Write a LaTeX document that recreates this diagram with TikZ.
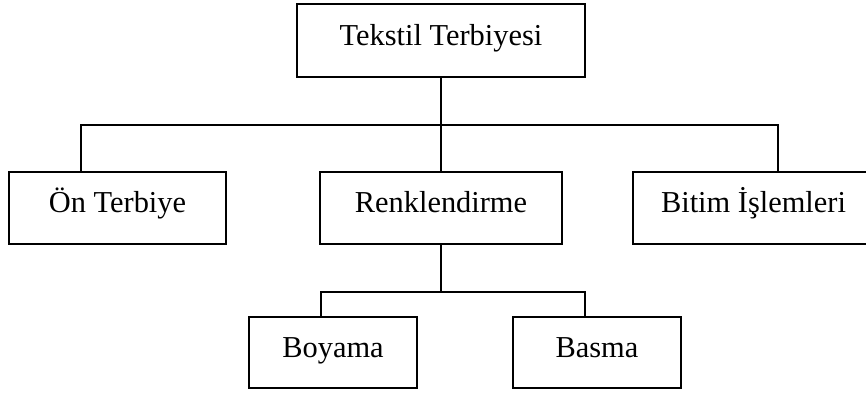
\documentclass[tikz,border=0pt]{standalone}
\usepackage{fontspec}
\setmainfont{Liberation Serif}
\begin{document}
\begin{tikzpicture}[x=1pt,y=-1pt,
  box/.style={draw,line width=1.8pt,rectangle,inner sep=0pt,
    text height=14pt,text depth=5pt,font=\fontsize{30.4}{36}\selectfont},
  conn/.style={line width=1.8pt}]
\useasboundingbox (0,0) rectangle (866,392);
\node[box,minimum width=288pt,minimum height=73pt] (top) at (441,40.5) {Tekstil Terbiyesi};
\node[box,minimum width=217pt,minimum height=72pt] (on) at (117.5,208) {Ön Terbiye};
\node[box,minimum width=242pt,minimum height=72pt] (renk) at (441,208) {Renklendirme};
\node[box,minimum width=241pt,minimum height=72pt] (bitim) at (753.5,208) {Bitim İşlemleri};
\node[box,minimum width=168pt,minimum height=71pt] (boy) at (333,352.5) {Boyama};
\node[box,minimum width=168pt,minimum height=71pt] (bas) at (597,352.5) {Basma};
\coordinate (hl) at (81,125);
\coordinate (hr) at (778,125);
\coordinate (ll) at (321,292);
\coordinate (lr) at (585,292);
\draw[conn] (top.south) -- (renk.north);
\draw[conn] (on.north -| hl) -- (hl) -- (hr) -- (bitim.north -| hr);
\draw[conn] (renk.south) -- (renk.south |- ll);
\draw[conn] (boy.north -| ll) -- (ll) -- (lr) -- (bas.north -| lr);
\end{tikzpicture}
\end{document}
